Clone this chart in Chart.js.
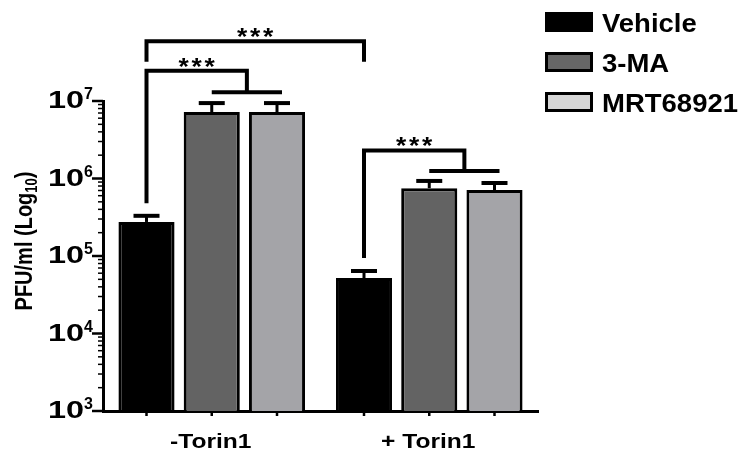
<!DOCTYPE html>
<html>
<head>
<meta charset="utf-8">
<script src="https://cdn.jsdelivr.net/npm/chart.js@4"></script>
<style>
  html, body { margin: 0; padding: 0; background: #fff; }
  #wrap { width: 742px; height: 450px; }
</style>
</head>
<body>
<div id="wrap"><canvas id="pfuChart" width="742" height="450"></canvas></div>
<script>
const groups = ["-Torin1", "+ Torin1"];
const treatments = ["Vehicle", "3-MA", "MRT68921"];

const vehicleMean = [2.75e5, 5.2e4];
const vehicleUpper = [3.3e5, 6.4e4];
const maMean = [7.2e6, 7.5e5];
const maUpper = [9.4e6, 9.3e5];
const mrtMean = [7.2e6, 7.1e5];
const mrtUpper = [9.4e6, 8.75e5];

const decades = [1e3, 1e4, 1e5, 1e6, 1e7];
const exponents = ["3", "4", "5", "6", "7"];

// significance brackets: [dataset, index] of the control bar, then either a
// single target bar or a pair of bars joined by a short bar
const brackets = [
  { from: [0, 0], to: [[0, 1]], top: 5.9e7, leftEnd: 3.2e7, rightEnd: 3.2e7 },
  { from: [0, 0], to: [[1, 0], [2, 0]], top: 2.45e7, leftEnd: 4.8e5, rightEnd: 1.3e7 },
  { from: [0, 1], to: [[1, 1], [2, 1]], top: 2.3e6, leftEnd: 9.4e4, rightEnd: 1.25e6 },
];

const barColors = ["#000000", "#636363", "#a4a4a8"];
const legendColors = ["#000000", "#666666", "#d6d6d6"];
const upperValues = [vehicleUpper, maUpper, mrtUpper];

const FONT = '"Liberation Sans", Arial, sans-serif';

function drawText(ctx, text, x, y, size, align, stretch) {
  ctx.save();
  ctx.font = `bold ${size}px ${FONT}`;
  ctx.textAlign = align;
  ctx.textBaseline = "alphabetic";
  ctx.fillStyle = "#000";
  ctx.translate(x, y);
  ctx.scale(stretch, 1);
  ctx.fillText(text, 0, 0);
  ctx.restore();
}

const figurePlugin = {
  id: "figureExtras",
  afterDatasetsDraw(chart) {
    const ctx = chart.ctx;
    const yScale = chart.scales.y;
    const xScale = chart.scales.x;
    const area = chart.chartArea;

    ctx.save();
    ctx.strokeStyle = "#000";
    ctx.lineCap = "butt";

    // error bars (upper only)
    upperValues.forEach((upper, d) => {
      const meta = chart.getDatasetMeta(d);
      meta.data.forEach((bar, i) => {
        const yErr = yScale.getPixelForValue(upper[i]);
        ctx.lineWidth = 3;
        ctx.beginPath();
        ctx.moveTo(bar.x, bar.y);
        ctx.lineTo(bar.x, yErr);
        ctx.stroke();
        ctx.lineWidth = 4;
        ctx.beginPath();
        ctx.moveTo(bar.x - 13, yErr);
        ctx.lineTo(bar.x + 13, yErr);
        ctx.stroke();
      });
    });

    // x axis tick marks under each bar
    ctx.lineWidth = 2.5;
    treatments.forEach((t, d) => {
      chart.getDatasetMeta(d).data.forEach((bar) => {
        ctx.beginPath();
        ctx.moveTo(bar.x, area.bottom);
        ctx.lineTo(bar.x, area.bottom + 5);
        ctx.stroke();
      });
    });

    // major and minor log ticks
    ctx.lineWidth = 2.5;
    decades.forEach((dec) => {
      const y = yScale.getPixelForValue(dec);
      ctx.beginPath();
      ctx.moveTo(area.left - 11, y);
      ctx.lineTo(area.left, y);
      ctx.stroke();
    });
    ctx.lineWidth = 1.5;
    decades.slice(0, -1).forEach((dec) => {
      for (let m = 2; m <= 9; m++) {
        const y = yScale.getPixelForValue(m * dec);
        ctx.beginPath();
        ctx.moveTo(area.left - 5, y);
        ctx.lineTo(area.left, y);
        ctx.stroke();
      }
    });

    // brackets
    ctx.lineWidth = 4;
    ctx.lineJoin = "miter";
    brackets.forEach((b) => {
      const left = chart.getDatasetMeta(b.from[0]).data[b.from[1]].x;
      const yTop = yScale.getPixelForValue(b.top);
      const yLeft = yScale.getPixelForValue(b.leftEnd);
      const yRight = yScale.getPixelForValue(b.rightEnd);
      let right;
      if (b.to.length === 1) {
        right = chart.getDatasetMeta(b.to[0][0]).data[b.to[0][1]].x;
      } else {
        const x1 = chart.getDatasetMeta(b.to[0][0]).data[b.to[0][1]].x;
        const x2 = chart.getDatasetMeta(b.to[1][0]).data[b.to[1][1]].x + 5;
        right = (x1 + x2) / 2;
        ctx.beginPath();
        ctx.moveTo(x1, yRight);
        ctx.lineTo(x2, yRight);
        ctx.stroke();
      }
      ctx.beginPath();
      ctx.moveTo(left, yLeft);
      ctx.lineTo(left, yTop);
      ctx.lineTo(right, yTop);
      ctx.lineTo(right, yRight);
      ctx.stroke();

      const cx = (left + right) / 2;
      [-13, 0, 13].forEach((dx) => {
        drawText(ctx, "*", cx + dx, yTop - 9 + 13, 24, "center", 1.1);
      });
    });
    ctx.restore();

    // y tick labels 10^n
    decades.forEach((v, i) => {
      const y = yScale.getPixelForValue(v);
      drawText(ctx, "10", 84, y + 7, 24, "right", 1.35);
      drawText(ctx, exponents[i], 84, y - 2, 16, "left", 1.0);
    });

    // x category labels
    groups.forEach((g, i) => {
      drawText(ctx, g, xScale.getPixelForValue(i) - 1, 448, 21, "center", 1.17);
    });

    // y axis title with subscript
    ctx.save();
    ctx.translate(32, 241);
    ctx.scale(1.2, 1);
    ctx.rotate(-Math.PI / 2);
    ctx.fillStyle = "#000";
    ctx.textBaseline = "alphabetic";
    ctx.textAlign = "left";
    const mainFont = `bold 20px ${FONT}`;
    const subFont = `bold 13px ${FONT}`;
    ctx.font = mainFont;
    const w1 = ctx.measureText("PFU/ml (Log").width;
    const w3 = ctx.measureText(")").width;
    ctx.font = subFont;
    const w2 = ctx.measureText("10").width;
    const x0 = -(w1 + w2 + w3) / 2;
    ctx.font = mainFont;
    ctx.fillText("PFU/ml (Log", x0, 0);
    ctx.font = subFont;
    ctx.fillText("10", x0 + w1, 4);
    ctx.font = mainFont;
    ctx.fillText(")", x0 + w1 + w2, 0);
    ctx.restore();

    // legend
    ctx.save();
    treatments.forEach((t, d) => {
      const bx = 545, by = 12 + d * 40;
      ctx.fillStyle = legendColors[d];
      ctx.fillRect(bx, by, 48, 20);
      ctx.strokeStyle = "#000";
      ctx.lineWidth = 3;
      ctx.strokeRect(bx + 1.5, by + 1.5, 45, 17);
      drawText(ctx, t, 602, by + 20, 25, "left", 1.1);
    });
    ctx.restore();
  },
};

const datasets = [vehicleMean, maMean, mrtMean].map((values, d) => ({
  label: treatments[d],
  data: values,
  backgroundColor: barColors[d],
  borderColor: "#000",
  borderWidth: 3,
  categoryPercentage: 0.9,
  barPercentage: 0.86,
}));

new Chart(document.getElementById("pfuChart"), {
  type: "bar",
  data: { labels: groups, datasets },
  options: {
    responsive: false,
    animation: false,
    devicePixelRatio: 1,
    layout: { padding: { top: 101, right: 204, bottom: 0, left: 0 } },
    plugins: {
      legend: { display: false },
      tooltip: { enabled: false },
    },
    scales: {
      x: {
        type: "category",
        grid: { display: false },
        ticks: { display: false },
        border: { display: true, width: 3, color: "#000" },
        afterFit(scale) {
          scale.height = 39;
        },
      },
      y: {
        type: "logarithmic",
        min: 1e3,
        max: 1e7,
        afterBuildTicks(scale) {
          scale.ticks = decades.map((v) => ({ value: v, major: true }));
        },
        ticks: { display: false },
        grid: { display: false },
        border: { display: true, width: 3, color: "#000" },
        afterFit(scale) {
          scale.width = 103;
        },
      },
    },
  },
  plugins: [figurePlugin],
});
</script>
</body>
</html>
